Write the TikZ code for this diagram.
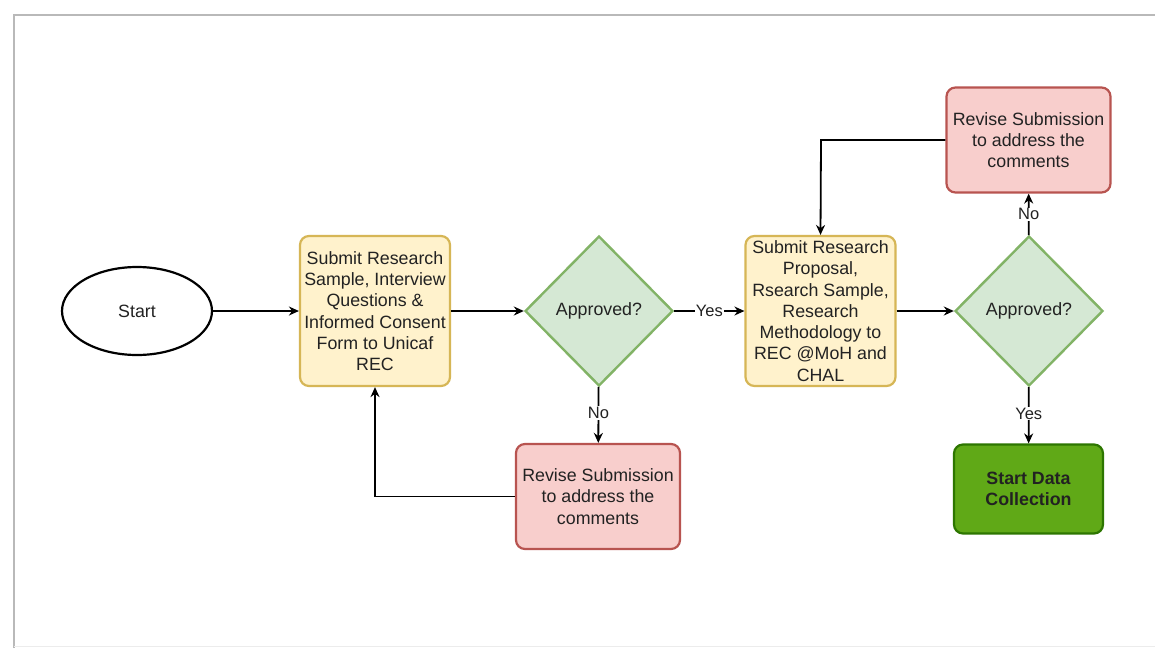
\documentclass[tikz,border=0pt]{standalone}
\usepackage{fontspec}
\setmainfont{Liberation Sans}
\usetikzlibrary{shapes.geometric,arrows.meta}
\definecolor{procfill}{HTML}{FFF2CC}
\definecolor{procline}{HTML}{D6B656}
\definecolor{decfill}{HTML}{D5E8D4}
\definecolor{decline}{HTML}{82B366}
\definecolor{revfill}{HTML}{F8CECC}
\definecolor{revline}{HTML}{B85450}
\definecolor{okfill}{HTML}{60A917}
\definecolor{okline}{HTML}{2D7600}
\definecolor{txt}{HTML}{222222}
\tikzset{
  base/.style={font=\fontsize{17.8}{21.3}\selectfont, text=txt, align=center, line width=2.2pt},
  procbox/.style={base, rectangle, rounded corners=9pt, draw=procline, fill=procfill,
    minimum width=150pt, minimum height=150pt, inner sep=0pt},
  decbox/.style={base, diamond, aspect=1, draw=decline, fill=decfill, line width=2.4pt,
    minimum width=148pt, minimum height=150pt, inner sep=0pt},
  revbox/.style={base, rectangle, rounded corners=9pt, draw=revline, fill=revfill,
    minimum width=164pt, minimum height=105pt, inner sep=0pt},
  okbox/.style={base, rectangle, rounded corners=9pt, draw=okline, fill=okfill,
    minimum width=149pt, minimum height=89pt, inner sep=0pt, font=\fontsize{17.8}{21.3}\selectfont\bfseries},
  startbox/.style={base, ellipse, draw=black, fill=white, minimum width=150pt, minimum height=88pt},
  flow/.style={line width=1.8pt, draw=black, -{Stealth[length=10pt,width=9pt]}},
  lbl/.style={font=\fontsize{16.5}{19}\selectfont, text=txt, fill=white, inner sep=1pt}
}
\begin{document}
\begin{tikzpicture}[x=1pt,y=-1pt]
  \useasboundingbox (0,0) rectangle (1155,648);
  % page frame
  \fill[white] (14,15) rectangle (1155,648);
  \draw[line width=2.5pt, gray!55] (14,648) -- (14,15) -- (1155,15);
  \draw[line width=1pt, gray!15] (14,646) -- (1155,646);

  \node[startbox] (start) at (137,311) {Start};
  \node[procbox] (sub1) at (375,311) {Submit Research\\Sample, Interview\\Questions \&\\Informed Consent\\Form to Unicaf\\REC};
  \node[decbox] (app1) at (599,311) {Approved?};
  \node[revbox] (rev1) at (598,496.5) {Revise Submission\\to address the\\comments};
  \node[procbox] (sub2) at (820.5,311) {Submit Research\\Proposal,\\Rsearch Sample,\\Research\\Methodology to\\REC @MoH and\\CHAL};
  \node[decbox] (app2) at (1029,311) {Approved?};
  \node[revbox] (rev2) at (1028.5,140) {Revise Submission\\to address the\\comments};
  \node[okbox] (data) at (1028.5,489) {Start Data\\Collection};

  \coordinate (c1) at (375,496.5);
  \coordinate (c2) at (821,140);

  \draw[flow] (start) -- (sub1);
  \draw[flow] (sub1) -- (app1);
  \draw[flow] (app1) -- node[lbl] {Yes} (sub2);
  \draw[flow] (app1) -- node[lbl, pos=0.47] {No} (rev1);
  \draw[flow] (rev1.west) -- (c1) -- (sub1.south);
  \draw[flow] (sub2) -- (app2);
  \draw[flow] (app2) -- node[lbl, pos=0.5] {No} (rev2);
  \draw[flow] (rev2.west) -- (c2) -- (sub2.north);
  \draw[flow] (app2) -- node[lbl, pos=0.47] {Yes} (data);
\end{tikzpicture}
\end{document}
